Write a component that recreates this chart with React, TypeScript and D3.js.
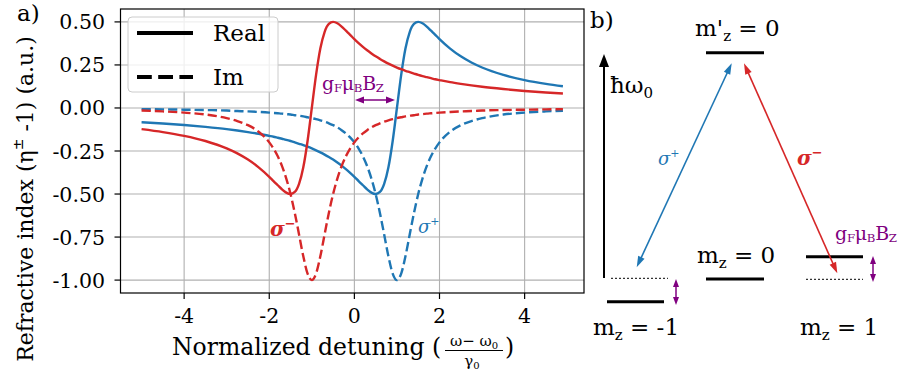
import React from "react";
import * as d3 from "d3";

// ---------- data ----------
const detuning = [-5, -4.5, -4, -3.5, -3, -2.75, -2.5, -2.25, -2, -1.9, -1.8, -1.7, -1.6, -1.5, -1.4, -1.3, -1.2, -1.1, -1, -0.9, -0.8, -0.7, -0.6, -0.5, -0.4, -0.3, -0.2, -0.1, 0, 0.1, 0.2, 0.3, 0.4, 0.5, 0.6, 0.7, 0.8, 0.9, 1, 1.1, 1.2, 1.3, 1.4, 1.5, 1.6, 1.7, 1.8, 1.9, 2, 2.25, 2.5, 2.75, 3, 3.5, 4, 4.5, 4.9];

const sigmaPlusReal = [-0.083, -0.090, -0.099, -0.110, -0.123, -0.131, -0.140, -0.150,
  -0.162, -0.167, -0.173, -0.179, -0.185, -0.192, -0.200, -0.208, -0.216, -0.225,
  -0.235, -0.246, -0.258, -0.271, -0.285, -0.300, -0.317, -0.335, -0.355, -0.377,
  -0.400, -0.425, -0.449, -0.473, -0.492, -0.500, -0.488, -0.441, -0.345, -0.192,
  0, 0.192, 0.345, 0.441, 0.488, 0.500, 0.492, 0.473, 0.449, 0.425,
  0.400, 0.345, 0.300, 0.264, 0.235, 0.192, 0.162, 0.140, 0.126];

const sigmaPlusIm = [-0.007, -0.008, -0.010, -0.012, -0.015, -0.018, -0.020, -0.023,
  -0.027, -0.029, -0.031, -0.033, -0.036, -0.038, -0.042, -0.045, -0.049, -0.054,
  -0.059, -0.065, -0.072, -0.080, -0.089, -0.100, -0.113, -0.129, -0.148, -0.171,
  -0.200, -0.236, -0.281, -0.338, -0.410, -0.500, -0.610, -0.735, -0.862, -0.962,
  -1.000, -0.962, -0.862, -0.735, -0.610, -0.500, -0.410, -0.338, -0.281, -0.236,
  -0.200, -0.138, -0.100, -0.076, -0.059, -0.038, -0.027, -0.020, -0.016];

const sigmaMinusReal = [-0.123, -0.140, -0.162, -0.192, -0.235, -0.264, -0.300, -0.345,
  -0.400, -0.425, -0.449, -0.473, -0.492, -0.500, -0.488, -0.441, -0.345, -0.192,
  0, 0.192, 0.345, 0.441, 0.488, 0.500, 0.492, 0.473, 0.449, 0.425,
  0.400, 0.377, 0.355, 0.335, 0.317, 0.300, 0.285, 0.271, 0.258, 0.246,
  0.235, 0.225, 0.216, 0.208, 0.200, 0.192, 0.185, 0.179, 0.173, 0.167,
  0.162, 0.150, 0.140, 0.131, 0.123, 0.110, 0.099, 0.090, 0.084];

const sigmaMinusIm = [-0.015, -0.020, -0.027, -0.038, -0.059, -0.076, -0.100, -0.138,
  -0.200, -0.236, -0.281, -0.338, -0.410, -0.500, -0.610, -0.735, -0.862, -0.962,
  -1.000, -0.962, -0.862, -0.735, -0.610, -0.500, -0.410, -0.338, -0.281, -0.236,
  -0.200, -0.171, -0.148, -0.129, -0.113, -0.100, -0.089, -0.080, -0.072, -0.065,
  -0.059, -0.054, -0.049, -0.045, -0.042, -0.038, -0.036, -0.033, -0.031, -0.029,
  -0.027, -0.023, -0.020, -0.018, -0.015, -0.012, -0.010, -0.008, -0.007];

const xTicks = [-4, -2, 0, 2, 4];
const yTicks = [-1, -0.75, -0.5, -0.25, 0, 0.25, 0.5];
const legendItems = ["Real", "Im"];

// ---------- styling ----------
const FONT = "'DejaVu Serif', serif";
const BLUE = "#1f77b4";
const RED = "#d62728";
const PURPLE = "#800080";
const GRID = "#b0b0b0";

function head(x1: number, y1: number, x2: number, y2: number, len: number, half: number) {
  const dx = x2 - x1, dy = y2 - y1;
  const l = Math.hypot(dx, dy);
  const ux = dx / l, uy = dy / l;
  const bx = x2 - ux * len, by = y2 - uy * len;
  const px = -uy * half, py = ux * half;
  return `${x2},${y2} ${bx + px},${by + py} ${bx - px},${by - py}`;
}

function Arrow({ x1, y1, x2, y2, color, w = 1.5, len = 10, half = 3.5, both = true }: any) {
  const dx = x2 - x1, dy = y2 - y1;
  const l = Math.hypot(dx, dy);
  const ux = dx / l, uy = dy / l;
  const sx = both ? x1 + ux * len * 0.8 : x1;
  const sy = both ? y1 + uy * len * 0.8 : y1;
  const ex = x2 - ux * len * 0.8, ey = y2 - uy * len * 0.8;
  return (
    <g>
      <line x1={sx} y1={sy} x2={ex} y2={ey} stroke={color} strokeWidth={w} />
      <polygon points={head(x1, y1, x2, y2, len, half)} fill={color} />
      {both && <polygon points={head(x2, y2, x1, y1, len, half)} fill={color} />}
    </g>
  );
}

function GMuB({ x, y, size }: any) {
  const s = size * 0.62;
  return (
    <text x={x} y={y} fontFamily={FONT} fontSize={size} fill={PURPLE} letterSpacing={-0.3}>
      g<tspan fontSize={s} dy={2}>F</tspan>
      <tspan dy={-2}>μ</tspan>
      <tspan fontSize={s} dy={2}>B</tspan>
      <tspan dy={-2}>B</tspan>
      <tspan fontSize={s} dy={2}>Z</tspan>
    </text>
  );
}

function MLabel({ x, y, prime, value }: any) {
  return (
    <text x={x} y={y} fontFamily={FONT} fontSize={23} fill="#000">
      m{prime ? "'" : ""}
      <tspan fontSize={15} dy={5}>z</tspan>
      <tspan dy={-5}>{` = ${value}`}</tspan>
    </text>
  );
}

export default function App() {
  const x = d3.scaleLinear().domain([-5.495, 5.395]).range([120.5, 584]);
  const y = d3.scaleLinear().domain([-1.075, 0.575]).range([293, 9]);
  const [x0, x1] = x.range();
  const [y0, y1] = [y(0.575), y(-1.075)];

  const mk = (vals: number[]) =>
    d3.line<number>()
      .x((_, i) => x(detuning[i]))
      .y((v) => y(v))
      .curve(d3.curveMonotoneX)(vals) as string;

  const series = [
    { vals: sigmaPlusReal, color: BLUE, dash: undefined },
    { vals: sigmaPlusIm, color: BLUE, dash: "9.25,4" },
    { vals: sigmaMinusReal, color: RED, dash: undefined },
    { vals: sigmaMinusIm, color: RED, dash: "9.25,4" },
  ];

  return (
    <svg width={906} height={381} style={{ position: "absolute", left: 0, top: 0, background: "#fff" }}>
      <rect x={0} y={0} width={906} height={381} fill="#fff" />
      {/* grid */}
      {xTicks.map((t) => (
        <line key={"gx" + t} x1={x(t)} x2={x(t)} y1={y0} y2={y1} stroke={GRID} strokeWidth={1.1} />
      ))}
      {yTicks.map((t) => (
        <line key={"gy" + t} x1={x0} x2={x1} y1={y(t)} y2={y(t)} stroke={GRID} strokeWidth={1.1} />
      ))}
      {/* series */}
      <g>
        {series.map((s, i) => (
          <path key={i} d={mk(s.vals)} fill="none" stroke={s.color} strokeWidth={2.4}
            strokeDasharray={s.dash} strokeLinejoin="round" />
        ))}
      </g>
      {/* frame */}
      <rect x={x0} y={y0} width={x1 - x0} height={y1 - y0} fill="none" stroke="#000" strokeWidth={1.2} />
      {/* ticks */}
      {xTicks.map((t) => (
        <g key={"tx" + t}>
          <line x1={x(t)} x2={x(t)} y1={y1} y2={y1 + 6} stroke="#000" strokeWidth={1.2} />
          <text x={x(t)} y={323} textAnchor="middle" fontFamily={FONT} fontSize={20.5}>{String(t)}</text>
        </g>
      ))}
      {yTicks.map((t) => (
        <g key={"ty" + t}>
          <line x1={x0 - 6} x2={x0} y1={y(t)} y2={y(t)} stroke="#000" strokeWidth={1.2} />
          <text x={105} y={y(t) + 7.5} textAnchor="end" fontFamily={FONT} fontSize={20.5}>{t.toFixed(2)}</text>
        </g>
      ))}
      {/* legend */}
      <rect x={128} y={17} width={150} height={75} rx={4} fill="#fff" fillOpacity={0.8} stroke="#cccccc" strokeWidth={1} />
      {legendItems.map((lab, i) => (
        <g key={lab}>
          <line x1={137} x2={193} y1={33 + i * 44} y2={33 + i * 44} stroke="#000" strokeWidth={4}
            strokeDasharray={i === 1 ? "14.8,6.4" : undefined} />
          <text x={213} y={41 + i * 44} fontFamily={FONT} fontSize={23}>{lab}</text>
        </g>
      ))}
      {/* annotations panel a */}
      <GMuB x={322} y={90} size={19} />
      <Arrow x1={355} y1={100} x2={395} y2={100} color={PURPLE} w={1.5} len={9} half={3.5} />
      <text x={270} y={236} fontFamily={FONT} fontSize={20} fontWeight="bold" fontStyle="italic" fill={RED}>
        σ<tspan fontSize={13} dy={-8}>−</tspan>
      </text>
      <text x={418} y={233} fontFamily={FONT} fontSize={18} fontStyle="italic" fill={BLUE}>
        σ<tspan fontSize={11} dy={-8}>+</tspan>
      </text>
      {/* axis labels */}
      <text x={172} y={355} fontFamily={FONT} fontSize={23.5}>Normalized detuning (</text>
      <text x={474} y={346} textAnchor="middle" fontFamily={FONT} fontSize={15}>
        ω− ω<tspan fontSize={10} dy={3}>0</tspan>
      </text>
      <line x1={445} x2={503} y1={350.5} y2={350.5} stroke="#000" strokeWidth={1} />
      <text x={472} y={366} textAnchor="middle" fontFamily={FONT} fontSize={15}>
        γ<tspan fontSize={10} dy={3}>0</tspan>
      </text>
      <text x={505} y={355} fontFamily={FONT} fontSize={23.5}>)</text>
      <text transform="translate(33,199) rotate(-90)" textAnchor="middle" fontFamily={FONT} fontSize={22}>
        Refractive index (η<tspan fontSize={14} dy={-10}>±</tspan><tspan dy={10}> -1) (a.u.)</tspan>
      </text>
      <text x={17} y={21} fontFamily={FONT} fontSize={23}>a)</text>

      {/* panel b */}
      <text x={590} y={28} fontFamily={FONT} fontSize={23}>b)</text>
      <Arrow x1={604} y1={278} x2={604} y2={54} color="#000" w={2} len={13} half={5} both={false} />
      <text x={610} y={93} fontFamily={FONT} fontSize={23}>
        ħω<tspan fontSize={15} dy={5}>0</tspan>
      </text>
      <MLabel x={695} y={36} prime value="0" />
      <line x1={706} x2={764} y1={52.7} y2={52.7} stroke="#000" strokeWidth={3} />
      {/* lower levels */}
      <line x1={607} x2={664} y1={301.7} y2={301.7} stroke="#000" strokeWidth={3} />
      <line x1={611} x2={668} y1={278.3} y2={278.3} stroke="#000" strokeWidth={1} strokeDasharray="2,2" />
      <MLabel x={593} y={335} value="-1" />
      <line x1={706} x2={764} y1={279} y2={279} stroke="#000" strokeWidth={3} />
      <MLabel x={697} y={263} value="0" />
      <line x1={806} x2={863} y1={256.7} y2={256.7} stroke="#000" strokeWidth={3} />
      <line x1={806} x2={863} y1={279.3} y2={279.3} stroke="#000" strokeWidth={1} strokeDasharray="2,2" />
      <MLabel x={800} y={335} value="1" />
      <Arrow x1={676} y1={279} x2={676} y2={305} color={PURPLE} w={1.5} len={8} half={3} />
      <Arrow x1={873} y1={256} x2={873} y2={282} color={PURPLE} w={1.5} len={8} half={3} />
      <GMuB x={835} y={240} size={19} />
      {/* transitions */}
      <Arrow x1={636.7} y1={267.3} x2={731.7} y2={63.3} color={BLUE} w={1.6} len={11} half={3.5} />
      <Arrow x1={744} y1={63.3} x2={837.3} y2={273.3} color={RED} w={1.6} len={11} half={3.5} />
      <text x={658} y={165} fontFamily={FONT} fontSize={18} fontStyle="italic" fill={BLUE}>
        σ<tspan fontSize={11} dy={-8}>+</tspan>
      </text>
      <text x={797} y={165} fontFamily={FONT} fontSize={20} fontWeight="bold" fontStyle="italic" fill={RED}>
        σ<tspan fontSize={13} dy={-8}>−</tspan>
      </text>
    </svg>
  );
}
